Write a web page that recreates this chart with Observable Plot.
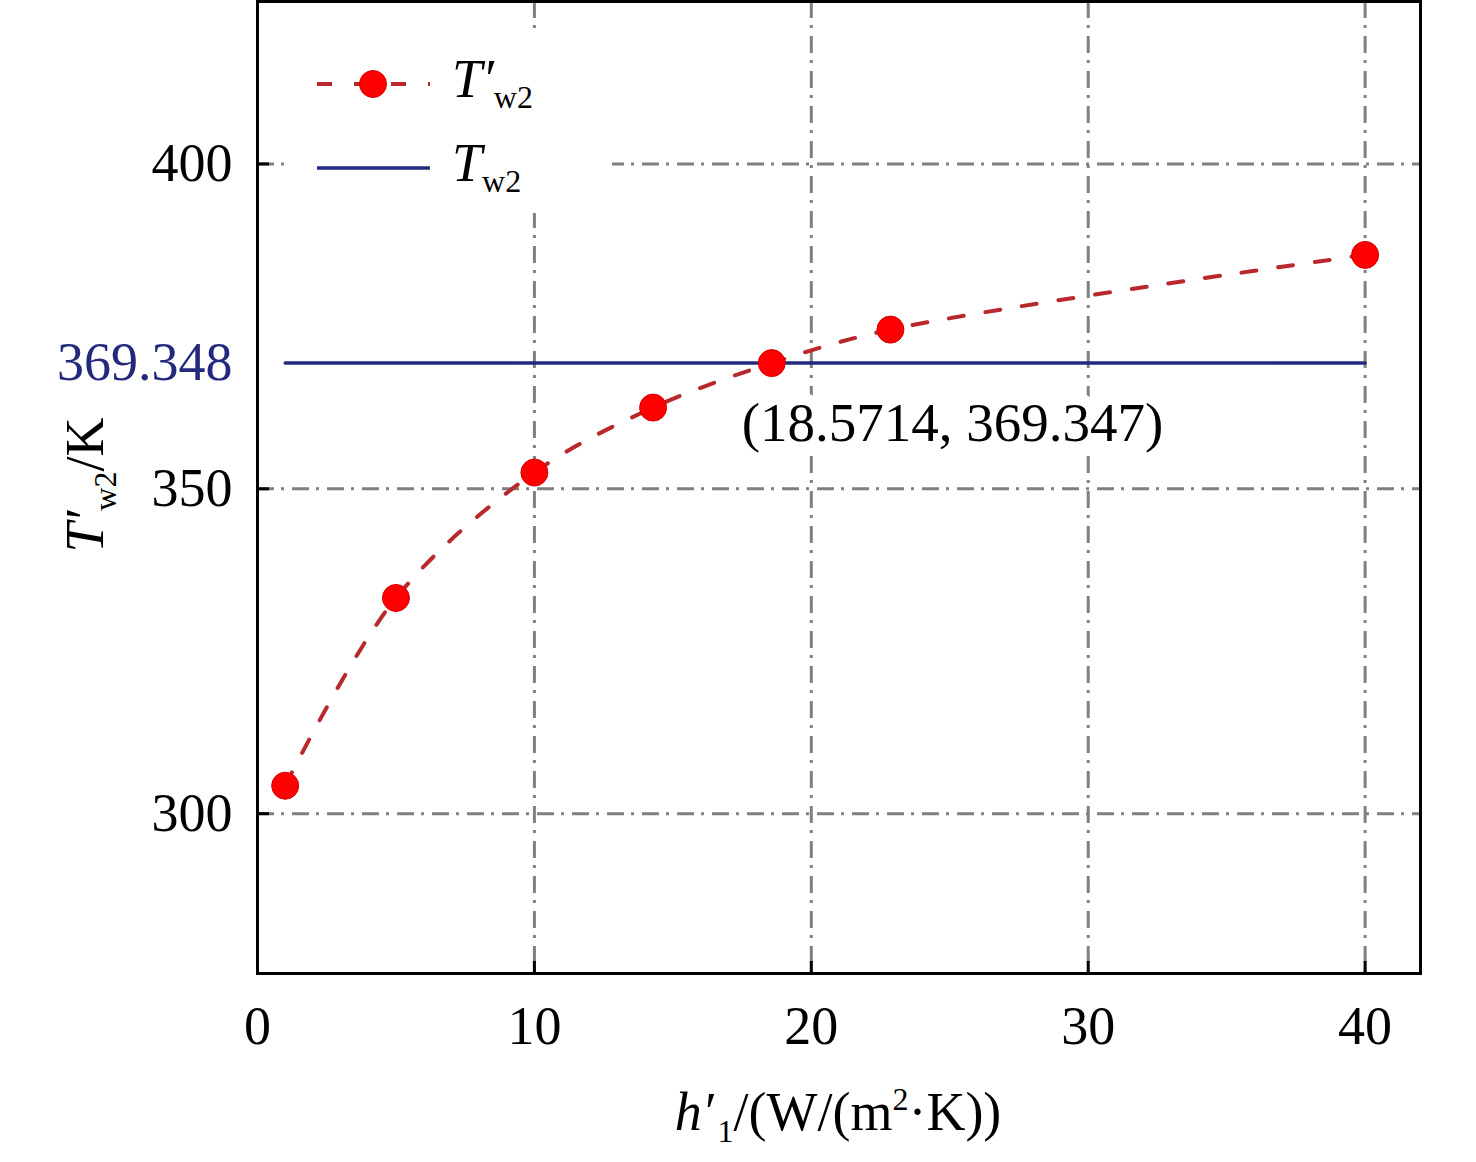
<!DOCTYPE html>
<html><head><meta charset="utf-8">
<script src="https://cdn.jsdelivr.net/npm/d3@7"></script>
<script src="https://cdn.jsdelivr.net/npm/@observablehq/plot@0.6"></script>
<style>body{margin:0;background:#fff;} #chart{width:1476px;height:1162px;}</style>
</head><body><div id="chart"></div>
<script>
// ---- data ----
const hValues = [1, 5, 10, 14.2857, 18.5714, 22.8571, 40];
const twPrimeValues = [304.3, 333.2, 352.5, 362.5, 369.347, 374.5, 386.0];
const tw2Value = 369.348;
const tw2Span = [1, 40];
const xTicks = [0, 10, 20, 30, 40];
const yTicks = [300, 350, 400];
const crossing = {x: 18.5714, y: 369.347, label: "(18.5714, 369.347)"};
const xDomain = [0, 42];
const yDomain = [275.4, 425];

const data = hValues.map((x, i) => ({x, y: twPrimeValues[i]}));
const tw2Line = tw2Span.map(x => ({x, y: tw2Value}));

const font = "'Liberation Serif', 'Times New Roman', serif";
const red = "#b8282c", dotRed = "#ff0000", navy = "#232a7e";
const grid = {stroke: "#808080", strokeWidth: 3, strokeDasharray: "17,7,3,8"};

const plot = Plot.plot({
  width: 1476, height: 1162,
  marginLeft: 257, marginRight: 56, marginTop: 1, marginBottom: 189,
  style: {fontFamily: font, fontSize: "54px", background: "white", overflow: "visible"},
  x: {domain: xDomain},
  y: {domain: yDomain},
  marks: [
    Plot.ruleX(xTicks.filter(d => d > 0), grid),
    Plot.ruleY(yTicks, grid),
    Plot.text([crossing], {x: "x", y: "y", text: "label", dx: -30, dy: 60, textAnchor: "start",
      fontSize: 55, fill: "black", stroke: "white", strokeWidth: 24, paintOrder: "stroke", strokeLinejoin: "round"}),
    Plot.line(tw2Line, {x: "x", y: "y", stroke: navy, strokeWidth: 3.5}),
    Plot.line(data, {x: "x", y: "y", curve: "catmull-rom", stroke: red, strokeWidth: 4, strokeDasharray: "15,22"}),
    Plot.dot(data, {x: "x", y: "y", r: 13.5, fill: dotRed, stroke: "#d40000", strokeWidth: 1}),
    Plot.frame({stroke: "black", strokeWidth: 3}),
    Plot.axisX({ticks: xTicks, tickSize: -12, tickPadding: 44, tickFormat: d => d, fontSize: 54, label: null, strokeWidth: 3}),
    Plot.axisY({ticks: yTicks, tickSize: -12, tickPadding: 37, tickFormat: d => d, fontSize: 54, label: null, strokeWidth: 3}),
    Plot.axisY({ticks: [tw2Value], tickSize: 0, tickPadding: 25, tickFormat: d => String(d), fill: navy, fontSize: 54, label: null})
  ]
});
document.getElementById("chart").append(plot);

// ---- legend & axis titles (with sub/superscripts) ----
const svg = d3.select(plot);
const g = svg.append("g").attr("font-family", font).attr("fill", "black");
g.append("rect").attr("x", 285).attr("y", 30).attr("width", 327).attr("height", 183).attr("fill", "white");

const legend = [
  {main: "T", prime: "′", sub: "w2", stroke: red, dash: "15,22", dot: true, y: 84},
  {main: "T", prime: "", sub: "w2", stroke: navy, dash: null, dot: false, y: 168}
];
legend.forEach(d => {
  g.append("line").attr("x1", 317).attr("x2", 430).attr("y1", d.y).attr("y2", d.y)
    .attr("stroke", d.stroke).attr("stroke-width", d.dot ? 4 : 3.5)
    .attr("stroke-dasharray", d.dash);
  if (d.dot) g.append("circle").attr("cx", 373).attr("cy", d.y).attr("r", 13.5)
    .attr("fill", dotRed).attr("stroke", "#d40000");
  const t = g.append("text").attr("x", 452).attr("y", d.y + 13).attr("font-size", 54)
    .attr("text-anchor", "start");
  t.append("tspan").attr("font-style", "italic").text(d.main);
  if (d.prime) t.append("tspan").attr("font-style", "italic").text(d.prime);
  t.append("tspan").attr("font-size", 32).attr("dy", 11).text(d.sub);
});

// x title
const xt = g.append("text").attr("x", 838).attr("y", 1130).attr("text-anchor", "middle").attr("font-size", 54);
xt.append("tspan").attr("font-style", "italic").text("h");
xt.append("tspan").attr("font-style", "italic").text("′");
xt.append("tspan").attr("font-size", 32).attr("dy", 12).attr("dx", 4).text("1");
xt.append("tspan").attr("dy", -12).text("/(W/(m");
xt.append("tspan").attr("font-size", 32).attr("dy", -20).text("2");
xt.append("tspan").attr("dy", 20).text("·K))");

// y title
const yt = g.append("text").attr("transform", "translate(103,485) rotate(-90)")
  .attr("text-anchor", "middle").attr("font-size", 54);
yt.append("tspan").attr("font-style", "italic").text("T");
yt.append("tspan").attr("font-style", "italic").text("′");
yt.append("tspan").attr("font-size", 32).attr("dy", 13).text("w2");
yt.append("tspan").attr("dy", -13).text("/K");
</script>
</body></html>
